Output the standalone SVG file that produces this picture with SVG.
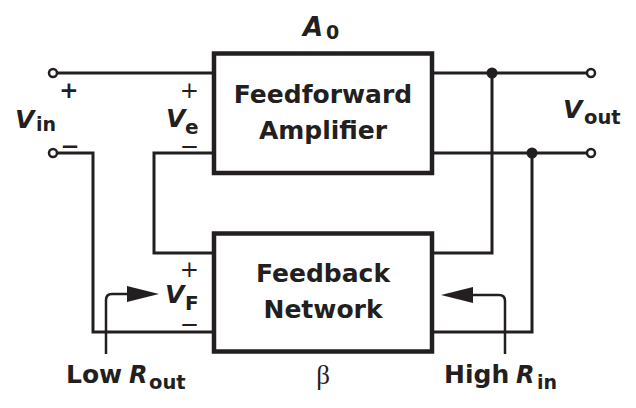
<svg xmlns="http://www.w3.org/2000/svg" width="636" height="408" viewBox="0 0 636 408">
<style>
  .w { fill: none; stroke: #231f20; stroke-width: 3; stroke-linejoin: miter; }
  .box { fill: #fff; stroke: #231f20; stroke-width: 4.5; }
  .term { fill: #fff; stroke: #231f20; stroke-width: 2.5; }
  .dot { fill: #231f20; }
  .ah { fill: #231f20; }
  .aw { fill: none; stroke: #231f20; stroke-width: 2.5; }
  text { font-family: "DejaVu Sans", "Liberation Sans", sans-serif; fill: #231f20; }
  .lbl { font-weight: bold; font-size: 25px; }
  .it { font-style: italic; font-weight: bold; }
  .sub { font-weight: bold; }
  .sign { font-size: 23px; text-anchor: middle; }
  .greek { font-family: "Liberation Serif", "DejaVu Serif", serif; font-size: 27px; text-anchor: middle; }
</style>
<rect width="636" height="408" fill="#fff"/>

<g id="connectors">
  <line class="w" x1="57" y1="73" x2="214" y2="73"/>
  <path class="w" d="M57,153 H93 V332 H214"/>
  <path class="w" d="M214,153 H154 V253 H214"/>
  <line class="w" x1="432" y1="73" x2="587" y2="73"/>
  <line class="w" x1="432" y1="153" x2="587" y2="153"/>
  <path class="w" d="M432,253 H492 V73"/>
  <path class="w" d="M432,332 H532 V153"/>
  <circle class="dot" cx="492" cy="73" r="5.5"/>
  <circle class="dot" cx="532" cy="153" r="5.5"/>
  <circle class="term" cx="53" cy="73" r="4"/>
  <circle class="term" cx="53" cy="153" r="4"/>
  <circle class="term" cx="591" cy="73" r="4"/>
  <circle class="term" cx="591" cy="153" r="4"/>
  <path class="aw" d="M106,354 V300 Q106,294 112,294 H132"/>
  <polygon class="ah" points="159,294 127,286 127,302"/>
  <path class="aw" d="M505,354 V301 Q505,295 499,295 H470"/>
  <polygon class="ah" points="441,295 473,287 473,303"/>
</g>

<g id="amplifier">
  <rect class="box" x="214" y="53.5" width="218" height="119.5"/>
  <text class="lbl" x="323" y="102.5" text-anchor="middle">Feedforward</text>
  <text class="lbl" x="323" y="139" text-anchor="middle">Amplifier</text>
  <text class="it" x="303" y="36" font-size="26">A</text>
  <text class="sub" x="326" y="39" font-size="19">0</text>
</g>

<g id="feedback">
  <rect class="box" x="214" y="233.5" width="218" height="118"/>
  <text class="lbl" x="323" y="281.5" text-anchor="middle">Feedback</text>
  <text class="lbl" x="323" y="318" text-anchor="middle">Network</text>
  <text class="greek" x="323" y="384">β</text>
</g>

<g id="vin">
  <text class="it" x="15" y="128" font-size="25">V</text>
  <text class="sub" x="36" y="131" font-size="19">in</text>
  <text class="sign" x="69" y="98" font-weight="bold">+</text>
  <text class="sign" x="70" y="154" font-weight="bold">−</text>
</g>

<g id="ve">
  <text class="it" x="166" y="127" font-size="25">V</text>
  <text class="sub" x="185" y="133.5" font-size="20">e</text>
  <text class="sign" x="189.5" y="97.5">+</text>
  <text class="sign" x="189.5" y="154">−</text>
</g>

<g id="vf">
  <text class="it" x="165" y="303" font-size="25">V</text>
  <text class="sub" x="185" y="310" font-size="20">F</text>
  <text class="sign" x="189.5" y="277">+</text>
  <text class="sign" x="189.5" y="332">−</text>
</g>

<g id="vout">
  <text class="it" x="563" y="117.5" font-size="25">V</text>
  <text class="sub" x="584" y="124" font-size="19.5">out</text>
</g>

<g id="low-rout">
  <text class="lbl" x="66" y="383" font-size="24">Low</text>
  <text class="it" x="129" y="383" font-size="24">R</text>
  <text class="sub" x="149" y="389" font-size="19.5">out</text>
</g>

<g id="high-rin">
  <text class="lbl" x="444" y="383" font-size="24">High</text>
  <text class="it" x="516" y="383" font-size="24">R</text>
  <text class="sub" x="537" y="388.5" font-size="19">in</text>
</g>
</svg>
